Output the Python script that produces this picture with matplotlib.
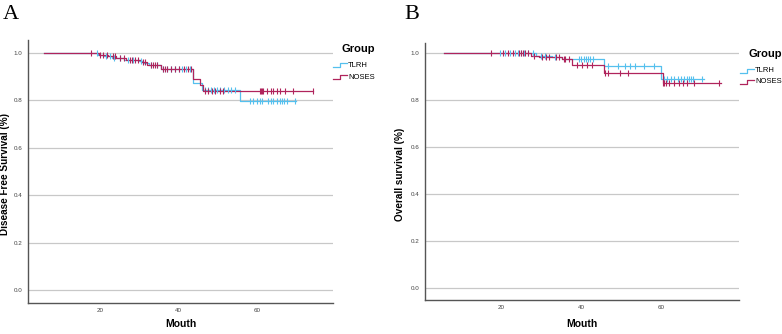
import numpy as np
import matplotlib
matplotlib.use("Agg")
import matplotlib.pyplot as plt

plt.rcParams['font.family'] = ['Liberation Sans', 'DejaVu Sans']

# ── DATA ───────────────────────────────────────────────────────────────────────
GROUPS = ["TLRH", "NOSES"]

# Panel A : disease free survival
A_TLRH_T = [5.6, 19.5, 21.0, 23.0, 26.0, 30.0, 31.0, 32.5, 35.5, 43.6, 45.9, 55.7]
A_TLRH_S = [1.0, 0.993, 0.986, 0.979, 0.972, 0.965, 0.958, 0.948, 0.932, 0.872, 0.846, 0.797]
A_TLRH_END = 69.9
A_TLRH_CENS = [19.2, 21.5, 22.5, 23.5, 25.0, 27.0, 28.5, 30.5, 33.0, 34.5, 36.0, 37.0,
               38.0, 39.0, 40.0, 41.0, 42.0, 43.0, 46.8, 47.5, 48.3, 49.0, 49.8, 50.5,
               51.5, 52.5, 53.5, 54.5, 58.2, 58.9, 59.9, 60.8, 61.4, 62.9, 63.7, 64.2,
               65.0, 65.9, 66.5, 67.0, 67.6, 69.7]

A_NOSES_T = [5.6, 19.8, 22.0, 24.0, 26.5, 30.5, 32.0, 35.5, 43.8, 45.5, 46.3]
A_NOSES_S = [1.0, 0.993, 0.986, 0.979, 0.972, 0.962, 0.950, 0.932, 0.889, 0.865, 0.841]
A_NOSES_END = 74.4
A_NOSES_CENS = [17.6, 20.0, 20.8, 21.7, 23.4, 23.8, 25.0, 26.0, 27.5, 28.2, 29.0, 29.6,
                31.0, 31.5, 33.0, 33.5, 34.0, 34.5, 36.0, 36.5, 37.0, 38.0, 39.0, 40.0,
                41.5, 42.5, 43.2, 46.8, 47.6, 48.5, 49.3, 50.6, 51.4, 60.8, 61.0, 61.4,
                61.6, 62.6, 63.5, 64.2, 65.0, 65.9, 67.1, 69.3, 74.3]

# Panel B : overall survival
B_TLRH_T = [5.7, 28.7, 32.8, 35.3, 45.6, 60.0]
B_TLRH_S = [1.0, 0.990, 0.983, 0.974, 0.944, 0.892]
B_TLRH_END = 70.7
B_TLRH_CENS = [19.6, 21.0, 22.2, 23.5, 24.3, 25.0, 25.8, 26.6, 28.0, 30.0, 31.0, 33.5,
               39.4, 40.0, 40.6, 41.2, 41.8, 42.3, 42.9, 46.8, 49.3, 50.9, 52.1, 53.4,
               55.8, 58.3, 60.8, 61.6, 62.5, 63.3, 64.2, 65.0, 65.8, 66.6, 67.1, 67.5,
               68.0, 70.3]

B_NOSES_T = [5.7, 27.4, 29.5, 35.3, 37.7, 45.7, 60.4]
B_NOSES_S = [1.0, 0.990, 0.983, 0.974, 0.950, 0.918, 0.872]
B_NOSES_END = 74.9
B_NOSES_CENS = [17.5, 20.5, 21.6, 23.0, 24.5, 25.0, 25.4, 26.0, 26.6, 28.2, 30.2, 31.1,
                31.9, 33.6, 34.4, 35.6, 36.0, 36.9, 38.9, 40.2, 41.4, 42.6, 46.0, 46.8,
                49.7, 51.8, 60.6, 60.8, 61.2, 62.1, 63.3, 64.5, 65.4, 66.6, 68.3, 74.6]

Y_TICKS = [0.0, 0.2, 0.4, 0.6, 0.8, 1.0]
X_TICKS = [20, 40, 60]

COL = {"TLRH": "#55c0ee", "NOSES": "#b0245c"}


def km(ax, t, s, end, cens, color):
    tt = list(t) + [end]
    ss = list(s) + [s[-1]]
    ax.step(tt, ss, where='post', color=color, lw=0.9, zorder=3)
    c = np.asarray(cens)
    idx = np.searchsorted(np.asarray(t), c, side='right') - 1
    ax.plot(c, np.asarray(s)[idx], ls='none', marker='|', ms=5, mew=0.8,
            color=color, zorder=4)


def spss_legend(ax, x0, ytitle, yrows, wpx, hpx):
    # legend drawn by hand, SPSS style (step glyph), positions in axes fraction
    tr = ax.transAxes
    dx = 1.0 / wpx
    dy = 1.0 / hpx
    ax.text(x0 + 9 * dx, ytitle, "Group", transform=tr, fontsize=8,
            fontweight='bold', va='center', ha='left')
    for g, yr in zip(GROUPS, yrows):
        xs = [x0, x0 + 7 * dx, x0 + 7 * dx, x0 + 14 * dx]
        ys = [yr - 2 * dy, yr - 2 * dy, yr + 2 * dy, yr + 2 * dy]
        ax.plot(xs, ys, color=COL[g], lw=0.9, transform=tr, clip_on=False)
        ax.text(x0 + 15 * dx, yr, g, transform=tr, fontsize=5.5,
                va='center', ha='left')


fig = plt.figure(figsize=(7.82, 3.34), dpi=100)
axA = fig.add_axes([0.0358, 0.093, 0.390, 0.787])
axB = fig.add_axes([0.5435, 0.101, 0.4015, 0.771])

panels = [
    (axA, "Disease Free Survival (%)", (1.6, 79.4), (-0.055, 1.055),
     [(A_TLRH_T, A_TLRH_S, A_TLRH_END, A_TLRH_CENS),
      (A_NOSES_T, A_NOSES_S, A_NOSES_END, A_NOSES_CENS)],
     305, 263, -0.059, -0.062, (1.0, 0.966, [0.905, 0.859])),
    (axB, "Overall survival (%)", (0.9, 79.5), (-0.054, 1.045),
     [(B_TLRH_T, B_TLRH_S, B_TLRH_END, B_TLRH_CENS),
      (B_NOSES_T, B_NOSES_S, B_NOSES_END, B_NOSES_CENS)],
     314, 257, -0.064, -0.074, (1.003, 0.957, [0.891, 0.848])),
]

for ax, ylab, xl, yl, series, wpx, hpx, ylx, xly, lg in panels:
    for g, (t, s, end, cens) in zip(GROUPS, series):
        km(ax, t, s, end, cens, COL[g])
    ax.set_xlim(*xl)
    ax.set_ylim(*yl)
    ax.set_yticks(Y_TICKS)
    ax.set_yticklabels([f"{v:.1f}" for v in Y_TICKS])
    ax.set_xticks(X_TICKS)
    ax.tick_params(length=0, labelsize=4.5, colors='#444444')
    ax.tick_params(axis='y', pad=4)
    ax.tick_params(axis='x', pad=3.5)
    ax.yaxis.grid(True, color='#c8c8c8', lw=0.9)
    ax.set_axisbelow(True)
    for sp in ('top', 'right'):
        ax.spines[sp].set_visible(False)
    for sp in ('left', 'bottom'):
        ax.spines[sp].set_color('#555555')
        ax.spines[sp].set_linewidth(1.0)
    ax.set_xlabel("Mouth", fontsize=7.5, fontweight='bold')
    ax.xaxis.set_label_coords(0.5, xly)
    ax.set_ylabel(ylab, fontsize=7.2, fontweight='bold')
    ax.yaxis.set_label_coords(ylx, 0.49)
    spss_legend(ax, lg[0], lg[1], lg[2], wpx, hpx)

fig.text(0.003, 0.985, "A", fontsize=16, family='Liberation Serif', va='top')
fig.text(0.517, 0.985, "B", fontsize=16, family='Liberation Serif', va='top')

fig.savefig("out.png", dpi=100)
